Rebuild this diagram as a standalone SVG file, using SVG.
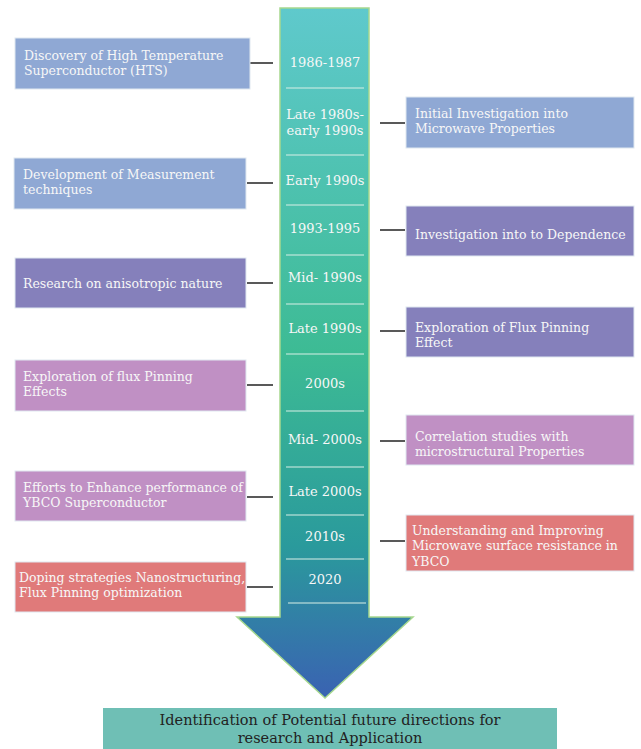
<svg xmlns="http://www.w3.org/2000/svg" width="641" height="749" viewBox="0 0 641 749">
<defs>
<linearGradient id="g" x1="0" y1="8" x2="0" y2="698" gradientUnits="userSpaceOnUse">
<stop offset="0" stop-color="#5fc9cc"/>
<stop offset="0.5" stop-color="#3dbb94"/>
<stop offset="0.78" stop-color="#2a9a9c"/>
<stop offset="1" stop-color="#3a62b2"/>
</linearGradient>
<style>
.box text{font-family:"DejaVu Serif","Liberation Serif",serif;font-size:12.5px;fill:#f7f7f7}
.yr{font-family:"DejaVu Serif","Liberation Serif",serif;font-size:13px;fill:#f7f7f7;text-anchor:middle}
.blue{fill:#8fa8d4}
.purp{fill:#8580bb}
.pink{fill:#c090c4}
.red{fill:#e07a7a}
.box rect{stroke:#dfe8f0;stroke-width:1}
.div{stroke:#d8efe6;stroke-width:1}
#connectors line{stroke:#222;stroke-width:1.5}
</style>
</defs>
<rect width="641" height="749" fill="#ffffff"/>
<g id="arrow">
<path d="M280,8 H369 V617 H413 L325,698 L237,617 H280 Z" fill="url(#g)" stroke="#a6d88e" stroke-width="1.5"/>
<line class="div" x1="286" y1="88" x2="364" y2="88"/>
<line class="div" x1="286" y1="155" x2="364" y2="155"/>
<line class="div" x1="286" y1="205" x2="364" y2="205"/>
<line class="div" x1="286" y1="255" x2="364" y2="255"/>
<line class="div" x1="286" y1="304" x2="364" y2="304"/>
<line class="div" x1="286" y1="354" x2="364" y2="354"/>
<line class="div" x1="286" y1="411" x2="364" y2="411"/>
<line class="div" x1="286" y1="467" x2="364" y2="467"/>
<line class="div" x1="286" y1="515" x2="364" y2="515"/>
<line class="div" x1="286" y1="559" x2="364" y2="559"/>
<line class="div" x1="288" y1="603" x2="366" y2="603"/>
<text class="yr" x="325" y="67">1986-1987</text>
<text class="yr" x="325" y="119">Late 1980s-</text>
<text class="yr" x="325" y="135">early 1990s</text>
<text class="yr" x="325" y="185">Early 1990s</text>
<text class="yr" x="325" y="233">1993-1995</text>
<text class="yr" x="325" y="282">Mid- 1990s</text>
<text class="yr" x="325" y="333">Late 1990s</text>
<text class="yr" x="325" y="388">2000s</text>
<text class="yr" x="325" y="444">Mid- 2000s</text>
<text class="yr" x="325" y="496">Late 2000s</text>
<text class="yr" x="325" y="541">2010s</text>
<text class="yr" x="325" y="584">2020</text>
</g>
<g id="connectors">
<line x1="250" y1="63" x2="273" y2="63"/>
<line x1="247" y1="183" x2="273" y2="183"/>
<line x1="247" y1="283" x2="273" y2="283"/>
<line x1="247" y1="385" x2="273" y2="385"/>
<line x1="247" y1="497" x2="273" y2="497"/>
<line x1="247" y1="587" x2="273" y2="587"/>
<line x1="380" y1="123" x2="405" y2="123"/>
<line x1="380" y1="230" x2="405" y2="230"/>
<line x1="380" y1="331" x2="405" y2="331"/>
<line x1="380" y1="441" x2="405" y2="441"/>
<line x1="380" y1="541" x2="405" y2="541"/>
</g>
<g id="n1" class="box"><rect class="blue" x="15" y="38" width="235" height="51"/><text x="24" y="60">Discovery of High Temperature</text><text x="24" y="75">Superconductor (HTS)</text></g>
<g id="n2" class="box"><rect class="blue" x="14" y="158" width="232" height="51"/><text x="23" y="179">Development of Measurement</text><text x="23" y="194">techniques</text></g>
<g id="n3" class="box"><rect class="purp" x="15" y="258" width="231" height="50"/><text x="23" y="288">Research on anisotropic nature</text></g>
<g id="n4" class="box"><rect class="pink" x="15" y="360" width="231" height="51"/><text x="23" y="381">Exploration of flux Pinning</text><text x="23" y="396">Effects</text></g>
<g id="n5" class="box"><rect class="pink" x="15" y="471" width="231" height="50"/><text x="23" y="492">Efforts to Enhance performance of</text><text x="23" y="507">YBCO Superconductor</text></g>
<g id="n6" class="box"><rect class="red" x="15" y="562" width="231" height="50"/><text x="19" y="582">Doping strategies Nanostructuring,</text><text x="19" y="597">Flux Pinning optimization</text></g>
<g id="n7" class="box"><rect class="blue" x="406" y="97" width="228" height="51"/><text x="415" y="118">Initial Investigation into</text><text x="415" y="133">Microwave Properties</text></g>
<g id="n8" class="box"><rect class="purp" x="406" y="206" width="228" height="50"/><text x="415" y="239">Investigation into to Dependence</text></g>
<g id="n9" class="box"><rect class="purp" x="406" y="307" width="228" height="50"/><text x="415" y="332">Exploration of Flux Pinning</text><text x="415" y="347">Effect</text></g>
<g id="n10" class="box"><rect class="pink" x="406" y="415" width="228" height="50"/><text x="415" y="441">Correlation studies with</text><text x="415" y="456">microstructural Properties</text></g>
<g id="n11" class="box"><rect class="red" x="406" y="515" width="228" height="56"/><text x="412" y="535">Understanding and Improving</text><text x="412" y="550">Microwave surface resistance in</text><text x="412" y="566">YBCO</text></g>
<g id="n12"><rect x="103" y="708" width="454" height="45" fill="#6fbfb5"/><text x="330" y="725" text-anchor="middle" font-family="DejaVu Serif, Liberation Serif, serif" font-size="14.5" fill="#222">Identification of Potential future directions for</text><text x="330" y="743" text-anchor="middle" font-family="DejaVu Serif, Liberation Serif, serif" font-size="14.5" fill="#222">research and Application</text></g>
</svg>
